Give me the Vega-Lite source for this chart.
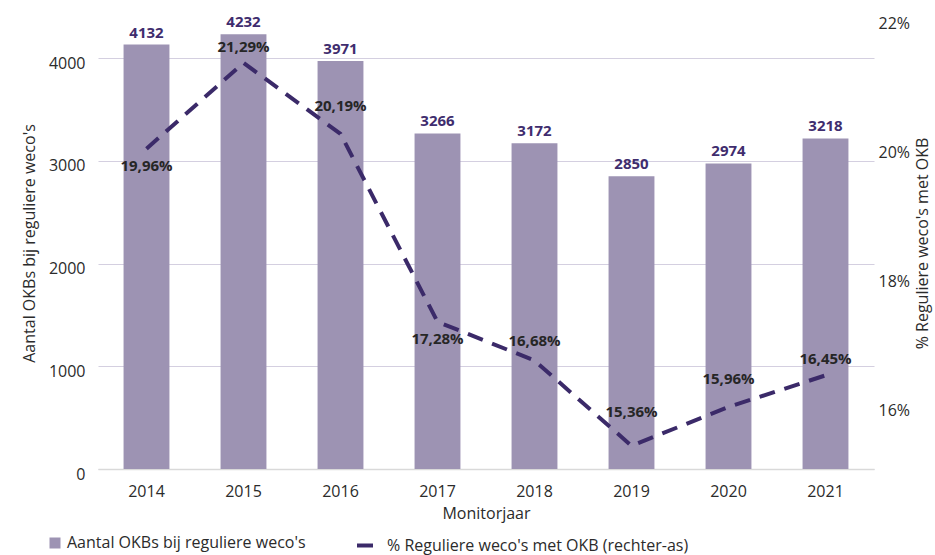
{
  "$schema": "https://vega.github.io/schema/vega-lite/v6.json",
  "width": 776,
  "height": 452,
  "autosize": {"type": "none"},
  "padding": {"left": 98, "top": 17, "right": 61, "bottom": 86},
  "config": {
    "font": "Open Sans",
    "view": {"stroke": null},
    "locale": {"number": {"decimal": ",", "thousands": ".", "grouping": [3], "currency": ["€", ""]}},
    "axis": {"labelFont": "Open Sans", "titleFont": "Open Sans", "labelFontSize": 16, "titleFontSize": 16, "labelColor": "#2b2b2b", "titleColor": "#2b2b2b", "titleFontWeight": "normal", "ticks": false}
  },
  "data": {
    "values": [
      {"year": "2014", "n": 4132, "pct": 0.1996},
      {"year": "2015", "n": 4232, "pct": 0.2129},
      {"year": "2016", "n": 3971, "pct": 0.2019},
      {"year": "2017", "n": 3266, "pct": 0.1728},
      {"year": "2018", "n": 3172, "pct": 0.1668},
      {"year": "2019", "n": 2850, "pct": 0.1536},
      {"year": "2020", "n": 2974, "pct": 0.1596},
      {"year": "2021", "n": 3218, "pct": 0.1645}
    ]
  },
  "encoding": {
    "x": {
      "field": "year",
      "type": "ordinal",
      "scale": {"paddingInner": 0.527, "paddingOuter": 0.2635},
      "axis": {"title": "Monitorjaar", "labelAngle": 0, "labelPadding": 14, "titlePadding": 6, "domainColor": "#d9d9d9", "domainWidth": 1.5, "grid": false}
    }
  },
  "layer": [
    {
      "encoding": {
        "y": {
          "field": "n",
          "type": "quantitative",
          "scale": {"domain": [0, 4400], "nice": false},
          "axis": {"title": "Aantal OKBs bij reguliere weco's", "values": [0, 1000, 2000, 3000, 4000], "format": "d", "grid": true, "gridColor": "#d4cfe0", "gridWidth": 1.2, "domain": false, "labelPadding": 13, "labelOffset": 5, "titlePadding": 11}
        }
      },
      "layer": [
        {
          "mark": {"type": "bar", "color": "#9d93b3"},
          "encoding": {
            "color": {"datum": "Aantal OKBs bij reguliere weco's", "scale": {"range": ["#9d93b3"]}, "legend": {"title": null, "orient": "none", "legendX": -51, "legendY": 518, "symbolType": "square", "symbolSize": 121, "symbolStrokeWidth": 0, "labelFontSize": 16, "labelColor": "#2b2b2b", "labelFont": "Open Sans", "labelLimit": 0}}
          }
        },
        {
          "mark": {"type": "text", "baseline": "middle", "dy": -12, "fontSize": 15, "fontWeight": "bold", "color": "#3f2d6e"},
          "encoding": {"text": {"field": "n", "type": "quantitative", "format": "d"}}
        }
      ]
    },
    {
      "encoding": {
        "y": {
          "field": "pct",
          "type": "quantitative",
          "scale": {"domain": [0.15, 0.22], "nice": false, "zero": false},
          "axis": {"orient": "right", "title": "% Reguliere weco's met OKB", "values": [0.16, 0.18, 0.2, 0.22], "format": ".0%", "grid": false, "domain": false, "labelPadding": 4, "labelOffset": 6, "titlePadding": 5, "titleAngle": -90, "titleBaseline": "top"}
        }
      },
      "layer": [
        {
          "mark": {"type": "line", "color": "#3b2a69", "strokeWidth": 4, "strokeCap": "butt"},
          "encoding": {
            "strokeDash": {"datum": "% Reguliere weco's met OKB (rechter-as)", "scale": {"range": [[16, 10]]}, "legend": {"title": null, "orient": "none", "legendX": 257, "legendY": 514, "symbolType": "stroke", "symbolSize": 625, "symbolStrokeWidth": 4, "symbolStrokeColor": "#3b2a69", "labelFontSize": 16, "labelColor": "#2b2b2b", "labelFont": "Open Sans", "labelLimit": 0, "labelOffset": 3, "encode": {"symbols": {"update": {"strokeDash": {"value": [10, 4]}}}}}}
          }
        },
        {
          "transform": [{"filter": "datum.year == '2014' || datum.year == '2017'"}],
          "mark": {"type": "text", "baseline": "middle", "dy": 17, "fontSize": 15, "fontWeight": "bold", "color": "#262626"},
          "encoding": {"text": {"field": "pct", "type": "quantitative", "format": ".2%"}}
        },
        {
          "transform": [{"filter": "datum.year == '2015' || datum.year == '2021'"}],
          "mark": {"type": "text", "baseline": "middle", "dy": -16, "fontSize": 15, "fontWeight": "bold", "color": "#262626"},
          "encoding": {"text": {"field": "pct", "type": "quantitative", "format": ".2%"}}
        },
        {
          "transform": [{"filter": "datum.year == '2018'"}],
          "mark": {"type": "text", "baseline": "middle", "dy": -20, "fontSize": 15, "fontWeight": "bold", "color": "#262626"},
          "encoding": {"text": {"field": "pct", "type": "quantitative", "format": ".2%"}}
        },
        {
          "transform": [{"filter": "datum.year == '2016' || datum.year == '2020'"}],
          "mark": {"type": "text", "baseline": "middle", "dy": -28, "fontSize": 15, "fontWeight": "bold", "color": "#262626"},
          "encoding": {"text": {"field": "pct", "type": "quantitative", "format": ".2%"}}
        },
        {
          "transform": [{"filter": "datum.year == '2019'"}],
          "mark": {"type": "text", "baseline": "middle", "dy": -34, "fontSize": 15, "fontWeight": "bold", "color": "#262626"},
          "encoding": {"text": {"field": "pct", "type": "quantitative", "format": ".2%"}}
        }
      ]
    }
  ],
  "resolve": {"scale": {"y": "independent", "color": "independent", "strokeDash": "independent"}}
}
